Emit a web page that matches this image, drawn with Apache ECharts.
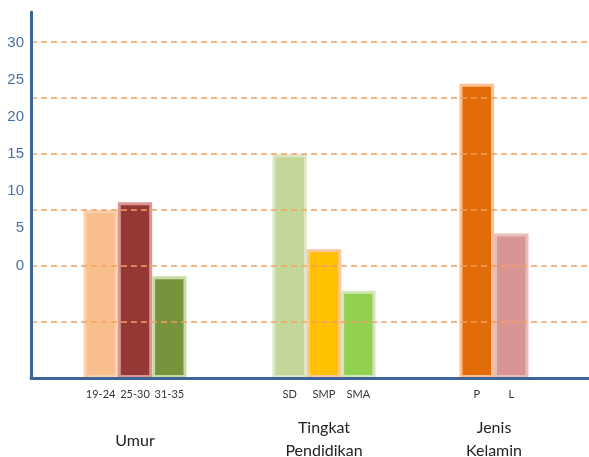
<!DOCTYPE html>
<html><head><meta charset="utf-8">
<script src="https://cdn.jsdelivr.net/npm/echarts@6/dist/echarts.min.js"></script>
<style>html,body{margin:0;padding:0;background:#fff}#c{width:589px;height:457px}</style>
</head><body><div id="c"></div>
<script>
// ---- data ----
const umurCategories = ['19-24', '25-30', '31-35'];
const umurValues = [15, 15.7, 9.1];
const pendidikanCategories = ['SD', 'SMP', 'SMA'];
const pendidikanValues = [20, 11.5, 7.8];
const kelaminCategories = ['P', 'L'];
const kelaminValues = [26.3, 12.9];
const groupNames = ['Umur', 'Tingkat\nPendidikan', 'Jenis\nKelamin'];
const yTickLabels = [0, 5, 10, 15, 20, 25, 30];

// ---- styles ----
const umurFill = ['#F9BF8E', '#953735', '#77933C'];
const umurBorder = ['#FBD2B0', '#D99694', '#CADCA6'];
const pendFill = ['#C4D79B', '#FFC000', '#92D050'];
const pendBorder = ['#DCE8C4', '#FAC79A', '#D4E6BC'];
const kelFill = ['#E36C0A', '#D99594'];
const kelBorder = ['#FAC090', '#E8BDBC'];

const axisBlue = '#3F6598';
const labelBlue = '#4C70A6';
const gridOrange = '#F4A062';
const TOP = 12, BOTTOM = 79, YMAX = 32.7;

function mk(values, fills, borders) {
  return values.map((v, i) => ({
    value: v,
    itemStyle: { color: fills[i], borderColor: borders[i], borderWidth: 3 }
  }));
}

const groupGrids = [
  { left: 83.5, width: 103 },
  { left: 272.5, width: 103 },
  { left: 459.5, width: 69 }
];
const groupCats = [umurCategories, pendidikanCategories, kelaminCategories];
const groupData = [
  mk(umurValues, umurFill, umurBorder),
  mk(pendidikanValues, pendFill, pendBorder),
  mk(kelaminValues, kelFill, kelBorder)
];
const nameGaps = [51, 38, 38];

const grids = [{ left: 31, right: 0, top: TOP, bottom: BOTTOM, containLabel: false, outerBoundsMode: 'none' }];
const xAxes = [{
  gridIndex: 0, type: 'category', data: [''], z: 10,
  axisLine: { lineStyle: { color: axisBlue, width: 3 } },
  axisTick: { show: false }, axisLabel: { show: false }, splitLine: { show: false }
}];
const yAxes = [
  {
    gridIndex: 0, type: 'value', min: 0, max: YMAX, interval: 5, z: 10,
    axisLine: { show: true, lineStyle: { color: axisBlue, width: 3 } },
    axisTick: { show: false }, axisLabel: { show: false },
    splitLine: { show: true, showMinLine: false, showMaxLine: false,
      lineStyle: { color: gridOrange, type: [6, 4], width: 1.5 } }
  },
  {
    gridIndex: 0, type: 'value', min: -15.2, max: 34.2, position: 'left',
    axisLine: { show: false }, axisTick: { show: false }, splitLine: { show: false },
    axisLabel: { customValues: yTickLabels, margin: 7, color: labelBlue,
      fontSize: 15, fontFamily: 'Liberation Sans' }
  }
];
const series = [];
groupGrids.forEach((g, i) => {
  const gi = i + 1;
  grids.push({ left: g.left, width: g.width, top: TOP, bottom: BOTTOM, containLabel: false, outerBoundsMode: 'none' });
  xAxes.push({
    gridIndex: gi, type: 'category', data: groupCats[i],
    axisLine: { show: false }, axisTick: { show: false },
    axisLabel: { margin: 11, color: '#333', fontSize: 11, fontFamily: 'Lato', interval: 0 },
    name: groupNames[i], nameLocation: 'middle', nameGap: nameGaps[i],
    nameTextStyle: { color: '#222', fontSize: 16, fontFamily: 'Lato', lineHeight: 23 }
  });
  yAxes.push({
    gridIndex: gi, type: 'value', min: 0, max: YMAX, show: false,
    splitLine: { show: false }
  });
  series.push({
    type: 'bar', xAxisIndex: gi, yAxisIndex: gi + 1,
    barCategoryGap: '0%', data: groupData[i], animation: false
  });
});

const chart = echarts.init(document.getElementById('c'), null, { renderer: 'canvas' });
chart.setOption({
  animation: false,
  grid: grids, xAxis: xAxes, yAxis: yAxes, series: series
});
</script>
</body></html>
